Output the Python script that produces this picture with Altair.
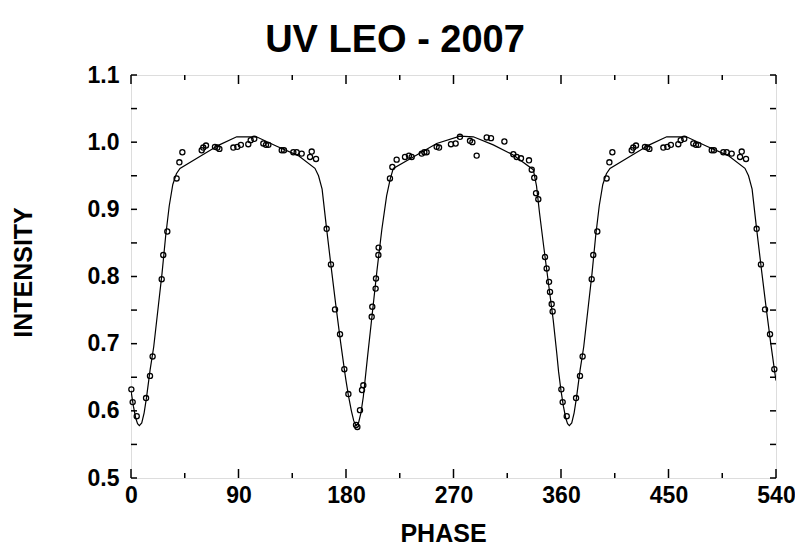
import altair as alt
import pandas as pd

TITLE = "UV LEO - 2007"
X_TITLE = "PHASE"
Y_TITLE = "INTENSITY"

# Observed points, phase 0-360 (the 0-180 part is repeated at 360-540 in the plot)
obs_phase = [
    0.3, 1.4, 4.8, 12.6, 15.9, 18.1, 25.7, 27.0, 30.4, 38.2, 40.5, 43.0,
    59.2, 60.5, 62.8, 70.3, 72.3, 74.0, 85.7, 89.0, 92.0, 98.2, 100.2, 103.2,
    110.8, 113.0, 115.0, 126.2, 128.1, 135.9, 138.7, 142.9, 149.9, 151.3, 154.9,
    163.8, 167.4, 170.8, 175.0, 178.6,
    182.0, 188.4, 189.5, 191.7, 193.4, 194.5, 201.5, 202.0, 204.8, 205.1, 207.1, 207.3,
    216.8, 218.8, 222.4, 229.4, 232.7, 235.0, 243.4, 245.6, 247.5, 255.9, 257.9,
    267.9, 271.8, 275.4, 283.8, 285.8, 289.4, 297.8, 301.4, 312.6, 320.1, 322.9,
    326.5, 333.2, 335.5, 337.6, 339.1, 341.0, 346.6, 348.0, 350.0, 350.8, 352.2, 353.0,
]
obs_intensity = [
    0.632, 0.613, 0.592, 0.619, 0.652, 0.681, 0.796, 0.832, 0.867, 0.946, 0.970, 0.985,
    0.988, 0.992, 0.995, 0.993, 0.992, 0.990, 0.992, 0.993, 0.996, 0.997, 1.003, 1.005,
    0.998, 0.996, 0.996, 0.988, 0.988, 0.985, 0.985, 0.983, 0.978, 0.986, 0.975,
    0.871, 0.818, 0.751, 0.714, 0.662,
    0.625, 0.579, 0.576, 0.601, 0.631, 0.638, 0.740, 0.755, 0.782, 0.797, 0.832, 0.843,
    0.946, 0.963, 0.974, 0.978, 0.980, 0.978, 0.983, 0.985, 0.985, 0.993, 0.992,
    0.997, 0.998, 1.008, 1.002, 1.000, 0.980, 1.007, 1.006, 1.001, 0.982, 0.978,
    0.976, 0.973, 0.959, 0.947, 0.924, 0.915, 0.829, 0.812, 0.792, 0.777, 0.759, 0.748,
]

# Model light curve, phase 0-360 (0-180 repeated at 360-540)
model_phase = [
    0, 2, 4, 5.5, 7, 9, 11, 13, 16, 19, 23, 26, 29, 32, 35, 38, 41,
    59, 74, 88.5, 105, 122, 140, 154, 157, 160, 163.5, 167.5, 171.5, 175.5, 179, 180,
    182, 184.5, 186.5, 188.5, 190.5, 192.5, 194.5, 198, 202, 206, 210, 214, 217, 219.6,
    239.2, 255.9, 275.4, 286.6, 303.3, 320, 336.8, 339.5, 342, 345.5, 349.5, 353.5,
    356.5, 358, 360,
]
model_intensity = [
    0.630, 0.607, 0.589, 0.581, 0.578, 0.582, 0.597, 0.620, 0.661, 0.695, 0.758, 0.805,
    0.860, 0.905, 0.937, 0.953, 0.961,
    0.980, 0.996, 1.008, 1.008, 0.994, 0.980, 0.961, 0.950, 0.930, 0.875, 0.815, 0.757,
    0.702, 0.657, 0.645,
    0.623, 0.600, 0.585, 0.578, 0.582, 0.597, 0.621, 0.680, 0.745, 0.810, 0.870, 0.920,
    0.945, 0.961,
    0.981, 0.998, 1.009, 1.008, 0.996, 0.981, 0.959, 0.935, 0.895, 0.845, 0.790, 0.735,
    0.685, 0.658, 0.630,
]

x_major = [0, 90, 180, 270, 360, 450, 540]
x_minor = [45, 135, 225, 315, 405, 495]
y_labels = [0.5, 0.6, 0.7, 0.8, 0.9, 1.0, 1.1]
y_ticks = [0.5, 0.55, 0.6, 0.65, 0.7, 0.75, 0.8, 0.85, 0.9, 0.95, 1.0, 1.05, 1.1]

# Build tables (phase-folded copy of the first half at +360)
obs_rows = [(p, v) for p, v in zip(obs_phase, obs_intensity)]
obs_rows += [(p + 360, v) for p, v in zip(obs_phase, obs_intensity) if p < 180]
obs_df = pd.DataFrame(obs_rows, columns=["phase", "intensity"])

mod_rows = [(p, v) for p, v in zip(model_phase, model_intensity)]
mod_rows += [(p + 360, v) for p, v in zip(model_phase, model_intensity) if 0 < p <= 180]
mod_df = pd.DataFrame(mod_rows, columns=["phase", "intensity"])

W, H = 645, 403
FONT = "Liberation Sans"

xs = alt.Scale(domain=[0, 540], nice=False, zero=False)
ys = alt.Scale(domain=[0.5, 1.1], nice=False, zero=False)

x_axis = alt.Axis(
    values=x_major, title=X_TITLE, grid=False, ticks=False, tickSize=0, domain=False,
    labelFont=FONT, labelFontSize=23, labelFontWeight="bold", labelColor="black",
    labelPadding=6, labelFlush=False,
    titleFont=FONT, titleFontSize=25, titleFontWeight="bold", titleColor="black",
    titleX=312, titleY=63, titleAlign="center", titleBaseline="alphabetic",
)
y_axis = alt.Axis(
    values=y_labels, format=".1f", title=Y_TITLE, grid=False, ticks=False, tickSize=0,
    domain=False, labelFont=FONT, labelFontSize=23, labelFontWeight="bold",
    labelColor="black", labelPadding=12, labelFlush=False,
    titleFont=FONT, titleFontSize=25, titleFontWeight="bold", titleColor="black",
    titleAngle=270, titleX=-100, titleY=197, titleAlign="center", titleBaseline="alphabetic",
)

X = alt.X("phase:Q", scale=xs, axis=x_axis)
Y = alt.Y("intensity:Q", scale=ys, axis=y_axis)

line = alt.Chart(mod_df).mark_line(color="black", strokeWidth=1.2, clip=True).encode(x=X, y=Y)
points = alt.Chart(obs_df).mark_point(
    shape="circle", filled=False, size=26, color="black", strokeWidth=1.3, opacity=1
).encode(x=X, y=Y)

xmaj_df = pd.DataFrame({"phase": x_major})
xmin_df = pd.DataFrame({"phase": x_minor})
yt_df = pd.DataFrame({"intensity": y_ticks})

def rule(df):
    return alt.Chart(df).mark_rule(color="black", strokeWidth=1.5)

ticks = [
    rule(xmaj_df).encode(x=X, y=alt.value(H), y2=alt.value(H - 9)),
    rule(xmin_df).encode(x=X, y=alt.value(H), y2=alt.value(H - 5)),
    rule(xmaj_df).encode(x=X, y=alt.value(0), y2=alt.value(9)),
    rule(xmin_df).encode(x=X, y=alt.value(0), y2=alt.value(5)),
    rule(yt_df).encode(y=Y, x=alt.value(0), x2=alt.value(6)),
    rule(yt_df).encode(y=Y, x=alt.value(W), x2=alt.value(W - 6)),
]

title = alt.Chart(pd.DataFrame({"t": [TITLE]})).mark_text(
    font=FONT, fontSize=38, fontWeight="bold", color="black",
    align="center", baseline="alphabetic",
).encode(text="t:N", x=alt.value(264), y=alt.value(-23))

chart = alt.layer(line, points, *ticks, title).properties(
    width=W,
    height=H,
    autosize=alt.AutoSizeParams(type="none"),
    padding={"left": 123, "top": 67, "right": 19, "bottom": 68},
).configure_view(stroke="black", strokeWidth=2).configure(background="white")

chart.save("out.html", embed_options={"renderer": "svg", "actions": False})
